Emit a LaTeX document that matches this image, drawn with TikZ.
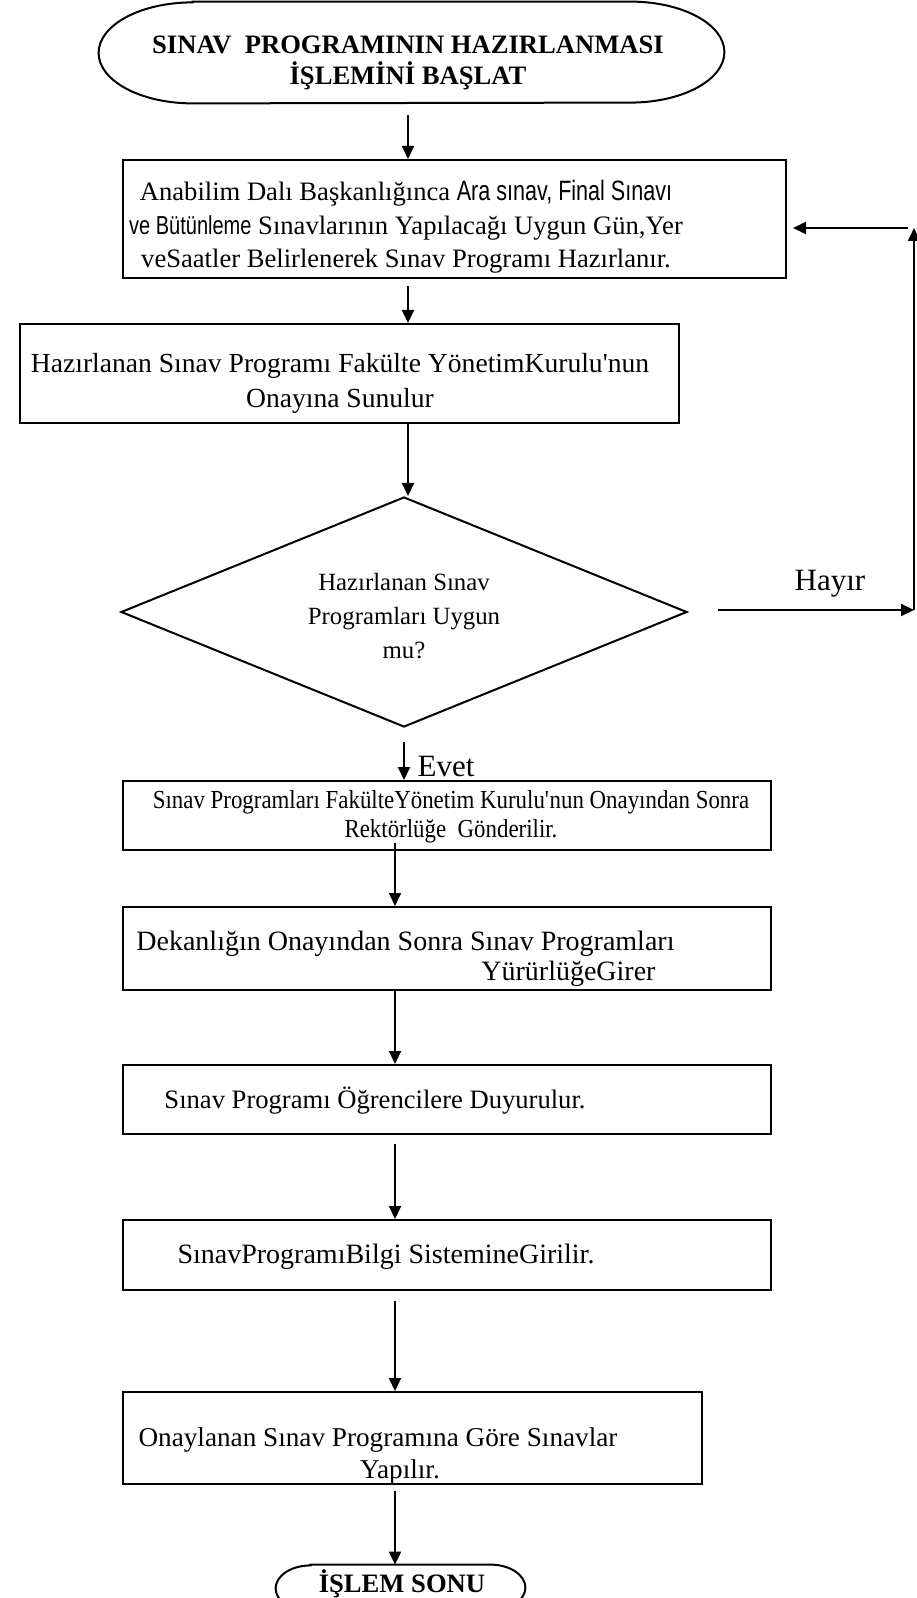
\documentclass[tikz,border=0pt]{standalone}
\usepackage{fontspec}
\setmainfont{Liberation Serif}
\newfontfamily\arialfont{Liberation Sans}[FakeStretch=0.77]
\newfontfamily\narrowserif{Liberation Serif}[FakeStretch=0.88]
\usetikzlibrary{arrows.meta,shapes.geometric}

\newcommand{\fs}[2]{\fontsize{#1}{#2}\selectfont}

\begin{document}
\begin{tikzpicture}[x=0.5pt,y=-0.5pt,
  stepbox/.style={draw, line width=1pt, inner sep=0pt},
  decision/.style={draw, diamond, line width=1pt, inner sep=0pt},
  txt/.style={inner sep=0pt, align=center, font=\fs{13}{17}},
  btxt/.style={inner sep=0pt, align=center, font=\fs{13.3}{15.3}\bfseries},
  flow/.style={-{Triangle[length=6.5pt,width=6pt]}, line width=1pt},
  term/.style={line width=1pt},
]
\useasboundingbox (0,0) rectangle (916,1598);

% column guides for the vertical connectors
\coordinate (c1) at (408,0);
\coordinate (c2) at (395,0);

% start terminal
\node[minimum width=312.5pt, minimum height=50.5pt, inner sep=0pt] (start) at (411.5,52.5) {};
\draw[term] ([xshift=47pt]start.north west) -- ([xshift=-47pt]start.north east)
  arc[start angle=90, end angle=-90, x radius=47pt, y radius=25.25pt]
  -- ([xshift=47pt]start.south west)
  arc[start angle=270, end angle=90, x radius=47pt, y radius=25.25pt] -- cycle;
\node[btxt] (starttxt) at (408,63) {SINAV\ \ PROGRAMININ HAZIRLANMASI\\İŞLEMİNİ BAŞLAT};

% process boxes
\node[stepbox, minimum width=331.5pt, minimum height=59pt] (b1) at (454.5,219) {};
\node[txt, font=\fs{13.3}{16.75}] (t1) at (406,227)
  {Anabilim Dalı Başkanlığınca {\arialfont\fs{14}{16.75}Ara sınav, Final Sınavı}\\
   {\arialfont\fs{13}{16.75}ve Bütünleme} Sınavlarının Yapılacağı Uygun Gün,Yer\\
   veSaatler Belirlenerek Sınav Programı Hazırlanır.};

\node[stepbox, minimum width=329.5pt, minimum height=49.5pt] (b2) at (349.5,373.5) {};
\node[txt, font=\fs{13.8}{17.5}] (t2) at (340,383)
  {Hazırlanan Sınav Programı Fakülte YönetimKurulu\textquotesingle nun\\Onayına Sunulur};

\node[decision, minimum width=283pt, minimum height=115pt] (d) at (404,612) {};
\node[txt, font=\fs{12.4}{17}] (td) at (404,616) {Hazırlanan Sınav\\Programları Uygun\\mu?};

\node[stepbox, minimum width=324pt, minimum height=34.5pt] (b3) at (447,815.5) {};
\node[txt, font=\narrowserif\fs{13}{14.5}] (t3) at (451,817)
  {Sınav Programları FakülteYönetim Kurulu\textquotesingle nun Onayından Sonra\\Rektörlüğe\ \ Gönderilir.};

\node[stepbox, minimum width=324pt, minimum height=41.5pt] (b4) at (447,948.5) {};
\node[txt, align=left, anchor=west, font=\fs{14}{15}] (t4) at (136,959)
  {Dekanlığın Onayından Sonra Sınav Programları\\\hspace*{172.5pt}YürürlüğeGirer};

\node[stepbox, minimum width=324pt, minimum height=34.5pt] (b5) at (447,1099.5) {};
\node[txt, font=\fs{13.3}{17}] (t5) at (375,1101) {Sınav Programı Öğrencilere Duyurulur.};

\node[stepbox, minimum width=324pt, minimum height=35pt] (b6) at (447,1255) {};
\node[txt, font=\fs{14}{17}] (t6) at (386,1257) {SınavProgramıBilgi SistemineGirilir.};

\node[stepbox, minimum width=289.5pt, minimum height=46pt] (b7) at (412.5,1438) {};
\node[txt, font=\fs{13.6}{16}] (t7) at (378,1456)
  {Onaylanan Sınav Programına Göre Sınavlar\\\hspace*{22pt}Yapılır.};

% end terminal (its lower part runs past the page edge)
\node[minimum width=124.5pt, minimum height=23pt, inner sep=0pt] (finish) at (400.5,1588) {};
\draw[term] ([xshift=17.5pt]finish.north west) -- ([xshift=-17.5pt]finish.north east)
  arc[start angle=90, end angle=-90, x radius=17.5pt, y radius=11.5pt]
  -- ([xshift=17.5pt]finish.south west)
  arc[start angle=270, end angle=90, x radius=17.5pt, y radius=11.5pt] -- cycle;
\node[btxt, anchor=base] (endtxt) at (402,1592) {İŞLEM SONU};

% branch labels
\node[txt, font=\fs{15.5}{17}] (no) at (830,584) {Hayır};
\node[txt, font=\fs{15.5}{17}, anchor=base] (yes) at (446,776) {Evet};

% main flow
\draw[flow, shorten <=6pt] (start.south -| c1) -- (b1.north -| c1);
\draw[flow, shorten <=3.5pt] (b1.south -| c1) -- (b2.north -| c1);
\draw[flow] (b2.south -| c1) -- (d.north -| c1);
\draw[flow, shorten <=7pt] (d.south) -- (b3.north -| d.south);
\draw[flow, shorten <=-4pt] (b3.south -| c2) -- (b4.north -| c2);
\draw[flow] (b4.south -| c2) -- (b5.north -| c2);
\draw[flow, shorten <=4.5pt] (b5.south -| c2) -- (b6.north -| c2);
\draw[flow, shorten <=5pt] (b6.south -| c2) -- (b7.north -| c2);
\draw[flow, shorten <=3pt] (b7.south -| c2) -- (finish.north -| c2);

% return loop for the "Hayır" branch
\coordinate (loopbot) at (914,610);
\coordinate (looptop) at (914,228);
\draw[flow, shorten <=15pt] (d.east |- loopbot) -- (loopbot);
\draw[flow] (loopbot) -- (looptop);
\draw[flow, shorten <=3pt] (looptop) -- ([xshift=3pt]b1.east |- looptop);
\end{tikzpicture}
\end{document}
